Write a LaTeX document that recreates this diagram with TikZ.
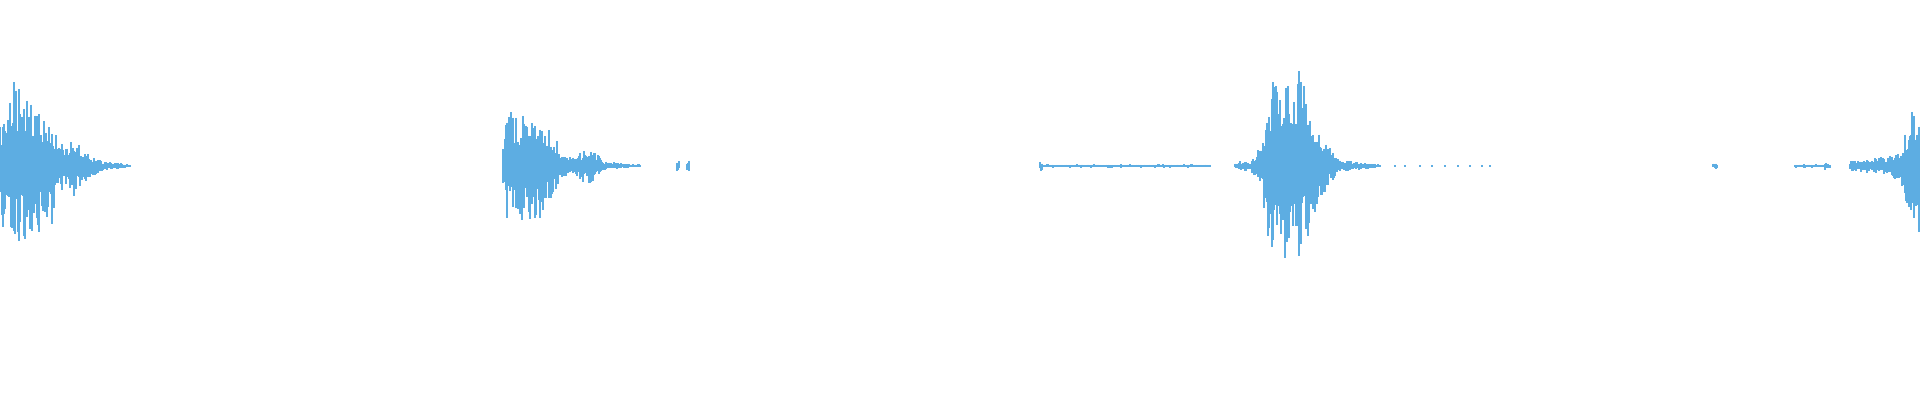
\documentclass[tikz,border=0pt]{standalone}
\definecolor{wave}{RGB}{93,173,226}
\begin{document}
\begin{tikzpicture}[x=0.01cm,y=0.01cm,wv/.style={draw=wave,line width=0.4pt}]
\useasboundingbox (0,0) rectangle (1920,400);
\pgfmathsetseed{7}
\foreach \xa/\aa/\xb/\ab in {0/45/5/75,5/75/14/85,14/85/30/70,30/70/52/60,52/60/56/35,56/35/68/18,68/18/72/40,72/40/80/20,80/20/100/5,100/5/130/1,
503/20/507/55,507/55/540/55,540/55/560/20,560/20/575/10,575/10/590/20,590/20/605/4,605/4/640/1,677/5/679/5,687/5/689/5,
1040/5/1042/5,1042/1/1210/1,1235/2/1245/6,1245/6/1252/2,1252/8/1262/20,1262/20/1268/90,1268/90/1300/95,1300/95/1320/35,1320/35/1340/6,1340/6/1380/1,
1713/2/1717/2,1795/1/1825/1,1825/5/1830/1,1850/4/1880/8,1880/8/1900/14,1900/14/1910/55,1910/55/1920/70}{
  \pgfmathsetmacro\n{max(1,int((\xb-\xa)/1.0))}
  \pgfmathsetmacro\dx{(\xb-\xa)/\n}
  \pgfmathsetmacro\da{(\ab-\aa)/\n}
  \foreach \i in {0,...,\n}{
    \pgfmathsetmacro\x{\xa+\dx*\i}
    \pgfmathsetmacro\e{\aa+\da*\i}
    \pgfmathsetmacro\a{\e*(0.35+0.65*rnd^2)+0.6}
    \pgfmathsetmacro\b{\e*(0.35+0.65*rnd^2)+0.6}
    \draw[wv] (\x,234+\a) -- (\x,234-\b);
  }
}
\foreach \x in {1395,1405,1420,1432,1445,1458,1470,1482,1490}{\draw[wv] (\x,233) -- (\x,235);}
\end{tikzpicture}
\end{document}
